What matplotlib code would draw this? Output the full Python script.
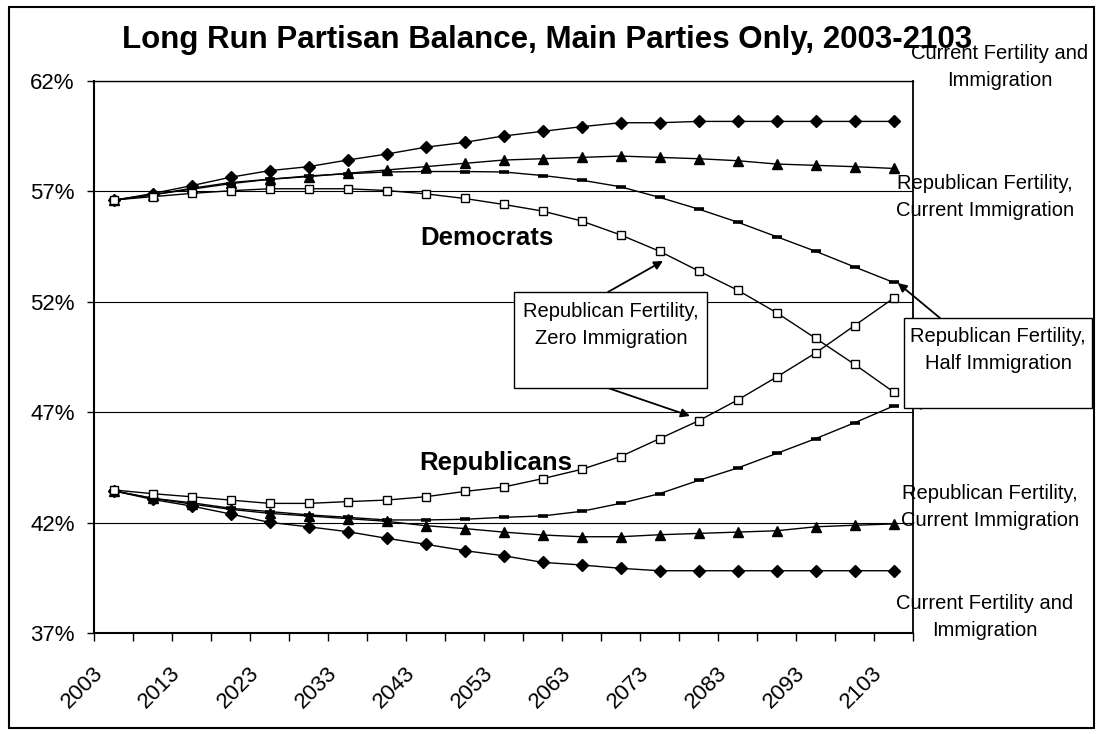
import matplotlib
matplotlib.use("Agg")
import matplotlib.pyplot as plt
import matplotlib.transforms as mtransforms
from matplotlib.patches import Rectangle

plt.rcParams["font.family"] = ["Liberation Sans", "DejaVu Sans"]

# projection years, one point every five years
years = list(range(2003, 2104, 5))
label_years = years[::2]

# Democratic share (%) under each scenario
dem_current = [56.60, 56.90, 57.26, 57.64, 57.94, 58.12, 58.42, 58.69, 59.00, 59.22, 59.51,
               59.72, 59.93, 60.11, 60.11, 60.17, 60.17, 60.17, 60.17, 60.17, 60.17]
dem_rep_fert_cur_imm = [56.60, 56.84, 57.14, 57.40, 57.55, 57.67, 57.82, 57.97, 58.12, 58.27, 58.42,
                        58.48, 58.54, 58.60, 58.54, 58.48, 58.39, 58.24, 58.18, 58.12, 58.04]
dem_rep_fert_half_imm = [56.60, 56.85, 57.10, 57.35, 57.55, 57.70, 57.80, 57.88, 57.90, 57.90, 57.88,
                         57.72, 57.51, 57.21, 56.73, 56.20, 55.61, 54.95, 54.29, 53.58, 52.88]
dem_rep_fert_zero_imm = [56.61, 56.76, 56.91, 57.03, 57.12, 57.12, 57.12, 57.04, 56.89, 56.68, 56.41,
                         56.11, 55.66, 55.03, 54.29, 53.40, 52.53, 51.51, 50.35, 49.17, 47.92]

# Republican share (%) under each scenario
rep_current = [43.44, 43.05, 42.75, 42.39, 42.01, 41.81, 41.59, 41.29, 41.02, 40.73, 40.50,
               40.20, 40.08, 39.93, 39.82, 39.82, 39.82, 39.82, 39.82, 39.82, 39.82]
rep_rep_fert_cur_imm = [43.44, 43.10, 42.84, 42.60, 42.42, 42.30, 42.18, 42.06, 41.86, 41.73, 41.57,
                        41.44, 41.36, 41.36, 41.45, 41.51, 41.57, 41.63, 41.81, 41.88, 41.94]
rep_rep_fert_half_imm = [43.44, 43.10, 42.90, 42.65, 42.50, 42.35, 42.24, 42.12, 42.12, 42.15, 42.24,
                         42.30, 42.51, 42.87, 43.31, 43.91, 44.47, 45.13, 45.80, 46.52, 47.28]
rep_rep_fert_zero_imm = [43.48, 43.31, 43.17, 43.02, 42.87, 42.87, 42.95, 43.02, 43.17, 43.41, 43.61,
                         43.99, 44.41, 44.99, 45.80, 46.61, 47.55, 48.59, 49.68, 50.92, 52.16]

y_ticks = [37, 42, 47, 52, 57, 62]

W, H = 1098, 734
fig = plt.figure(figsize=(W / 100, H / 100), dpi=100)


def fx(x):
    return x / W


def fy(y):
    return 1 - y / H


ax = fig.add_axes([fx(94), fy(633), fx(913) - fx(94), fy(81) - fy(633)])

idx = list(range(len(years)))
line_kw = dict(color="black", lw=1.0, clip_on=False)
diamond = dict(marker="D", ms=6.3, mfc="black", mec="black")
triangle = dict(marker="^", ms=7.5, mfc="black", mec="black")
dash = dict(marker="_", ms=7, mew=2.6, mec="black")
square = dict(marker="s", ms=6.3, mfc="white", mec="black", mew=1.0)

for series, style in [(dem_current, diamond), (rep_current, diamond),
                      (dem_rep_fert_cur_imm, triangle), (rep_rep_fert_cur_imm, triangle),
                      (dem_rep_fert_half_imm, dash), (rep_rep_fert_half_imm, dash),
                      (dem_rep_fert_zero_imm, square), (rep_rep_fert_zero_imm, square)]:
    ax.plot(idx, series, **line_kw, **style, zorder=3)

ax.set_xlim(-0.5, len(years) - 0.5)
ax.set_ylim(y_ticks[0], y_ticks[-1])
ax.yaxis.grid(True, color="black", lw=0.8)
ax.set_axisbelow(True)

# tick styling first, labels afterwards so the text settings stick
ax.tick_params(axis="y", direction="out", length=5, width=1.0, pad=9, labelsize=16)
ax.tick_params(axis="x", which="major", length=0, pad=27, labelsize=16)
ax.tick_params(axis="x", which="minor", direction="out", length=5.5, width=1.0)

ax.set_yticks(y_ticks)
ax.set_yticklabels([f"{v}%" for v in y_ticks])

# category boundaries carry the tick marks, labels sit on every other category
ax.set_xticks([i - 0.5 for i in range(len(years) + 1)], minor=True)
ax.set_xticks(idx[::2])
ax.set_xticklabels([str(y) for y in label_years])
shift = mtransforms.ScaledTranslation(-14 / 100, 0, fig.dpi_scale_trans)
for lab in ax.get_xticklabels():
    lab.set_rotation(45)
    lab.set_rotation_mode("anchor")
    lab.set_ha("right")
    lab.set_va("center")
    lab.set_fontsize(16)
    lab.set_transform(lab.get_transform() + shift)

for side in ["left", "bottom"]:
    ax.spines[side].set_linewidth(1.5)
ax.spines["right"].set_linewidth(1.3)
ax.spines["top"].set_linewidth(1.0)

fig.text(fx(547), fy(40), "Long Run Partisan Balance, Main Parties Only, 2003-2103",
         fontsize=22.5, fontweight="bold", ha="center", va="center")

fig.text(fx(420), fy(245), "Democrats", fontsize=18.5, fontweight="bold", va="baseline")
fig.text(fx(419), fy(470), "Republicans", fontsize=18.5, fontweight="bold", va="baseline")

side_labels = [
    (1000, 67, "Current Fertility and\nImmigration"),
    (985, 197, "Republican Fertility,\nCurrent Immigration"),
    (990, 507, "Republican Fertility,\nCurrent Immigration"),
    (985, 617, "Current Fertility and\nImmigration"),
]
for x, y, txt in side_labels:
    fig.text(fx(x), fy(y), txt, fontsize=14.5, ha="center", va="center", linespacing=1.5)

# callout boxes
for x0, y0, x1, y1 in [(514, 292, 707, 388), (904, 318, 1092, 408)]:
    fig.add_artist(Rectangle((fx(x0), fy(y1)), fx(x1) - fx(x0), fy(y0) - fy(y1),
                             transform=fig.transFigure, fc="white", ec="black", lw=1.0, zorder=5))
fig.text(fx(611), fy(325), "Republican Fertility,\nZero Immigration", fontsize=14.5,
         ha="center", va="center", linespacing=1.5, zorder=6)
fig.text(fx(998), fy(350), "Republican Fertility,\nHalf Immigration", fontsize=14.5,
         ha="center", va="center", linespacing=1.5, zorder=6)

arrow = dict(arrowstyle="-|>", color="black", lw=1.3, mutation_scale=13, shrinkA=0, shrinkB=0)
callouts = [
    ((14.09, 53.85), (608, 292)),
    ((14.78, 46.83), (608, 388)),
    ((20.11, 52.85), (940, 318)),
    ((20.47, 47.33), (1008, 408)),
]
for xy, (tx, ty) in callouts:
    ax.annotate("", xy=xy, xycoords="data", xytext=(fx(tx), fy(ty)),
                textcoords="figure fraction", arrowprops=arrow, annotation_clip=False, zorder=6)

fig.add_artist(Rectangle((fx(9), fy(728)), fx(1094) - fx(9), fy(7) - fy(728),
                         transform=fig.transFigure, fill=False, ec="black", lw=1.5))

fig.savefig("out.png", dpi=100)
